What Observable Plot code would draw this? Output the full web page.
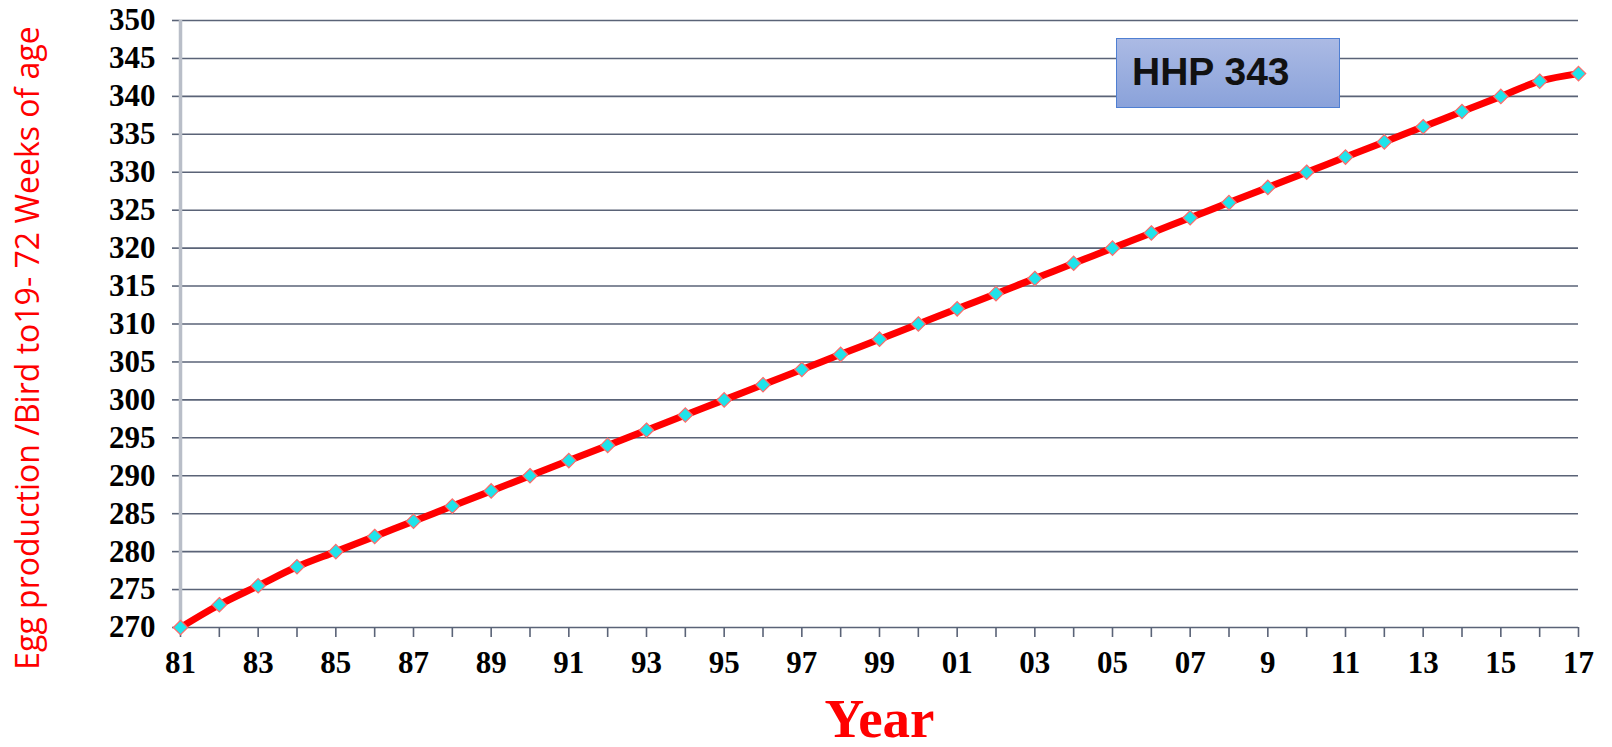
<!DOCTYPE html>
<html>
<head>
<meta charset="utf-8">
<script src="https://cdn.jsdelivr.net/npm/d3@7"></script>
<script src="https://cdn.jsdelivr.net/npm/@observablehq/plot@0.6"></script>
<style>
  html, body { margin: 0; padding: 0; background: #fff; }
  #wrap { position: relative; width: 1612px; height: 747px; }
  #badge {
    position: absolute; left: 1116px; top: 38px; width: 222px; height: 68px;
    background: linear-gradient(#abbae4, #8aa2da);
    border: 1.5px solid #4f7fd2;
    font: bold 39px "Liberation Sans", Arial, sans-serif; color: #111;
    box-sizing: content-box; line-height: 66px;
  }
  #badge span { position: absolute; left: 15px; top: 0; }
</style>
</head>
<body>
<div id="wrap"><div id="badge"><span>HHP 343</span></div></div>
<script>
// Data
const years = d3.range(1981, 2018);
const eggs = [270, 273, 275.5, 278, 280, 282, 284, 286, 288, 290, 292, 294, 296, 298, 300,
              302, 304, 306, 308, 310, 312, 314, 316, 318, 320, 322, 324, 326, 328, 330,
              332, 334, 336, 338, 340, 342, 343];
const xTickYears = [1981, 1983, 1985, 1987, 1989, 1991, 1993, 1995, 1997, 1999, 2001, 2003, 2005, 2007, 2009, 2011, 2013, 2015, 2017];
const xTickLabels = ["81", "83", "85", "87", "89", "91", "93", "95", "97", "99", "01", "03", "05", "07", "9", "11", "13", "15", "17"];
const yTicks = d3.range(270, 351, 5);
const seriesName = "HHP 343";
const xTitle = "Year";
const yTitle = "Egg production /Bird to19- 72 Weeks of age";

const rows = years.map((y, i) => ({year: y, eggs: eggs[i]}));
const labelMap = new Map(xTickYears.map((y, i) => [y, xTickLabels[i]]));
document.querySelector("#badge span").textContent = seriesName;

const gridColor = "#5a6377";
const tickFont = "'Liberation Serif', 'Times New Roman', serif";

const chart = Plot.plot({
  width: 1612,
  height: 747,
  marginTop: 20,
  marginBottom: 120,
  marginLeft: 180,
  marginRight: 34,
  style: {background: "transparent", fontFamily: tickFont},
  x: {domain: [1981, 2017]},
  y: {domain: [270, 350]},
  marks: [
    Plot.gridY(yTicks, {stroke: gridColor, strokeOpacity: 1, strokeWidth: 1.6}),
    Plot.axisY(yTicks, {
      tickSize: 8, tickPadding: 17, stroke: gridColor, strokeWidth: 1.6,
      fontSize: 31, fontWeight: "bold", fill: "#000", label: null,
      tickFormat: d => String(d)
    }),
    Plot.axisX(years, {
      tickSize: 10, tickPadding: 13, stroke: gridColor, strokeWidth: 1.6,
      fontSize: 31, fontWeight: "bold", fill: "#000", label: null,
      tickFormat: d => labelMap.get(d) ?? ""
    }),
    Plot.ruleX([1981], {stroke: "#b9bec8", strokeWidth: 3.5}),
    Plot.line(rows, {x: "year", y: "eggs", stroke: "#ff0000", strokeWidth: 7, curve: "catmull-rom"}),
    Plot.dot(rows, {x: "year", y: "eggs", symbol: "diamond2", r: 6.5, fill: "#1fe3ea", stroke: "#ff6a6a", strokeWidth: 1.2}),
    Plot.text([xTitle], {
      text: d => d, frameAnchor: "bottom", dy: 109,
      fontSize: 55, fontWeight: "bold", fill: "#ff0000",
      fontFamily: "'Liberation Serif', 'Times New Roman', serif"
    }),
    Plot.text([yTitle], {
      text: d => d, frameAnchor: "left", textAnchor: "middle", dx: -152, dy: 24, rotate: -90,
      fontSize: 32, fill: "#ff0000", fontFamily: "'Open Sans', sans-serif"
    })
  ]
});
document.getElementById("wrap").prepend(chart);
</script>
</body>
</html>
